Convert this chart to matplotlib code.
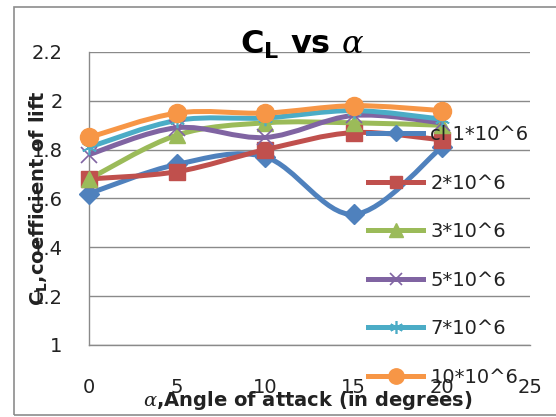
import matplotlib
matplotlib.use("Agg")
import matplotlib.pyplot as plt
from matplotlib.path import Path
from matplotlib.patches import PathPatch, Rectangle
from matplotlib.lines import Line2D
import numpy as np

plt.rcParams['font.family'] = ['DejaVu Sans']
plt.rcParams['mathtext.fontset'] = 'custom'
plt.rcParams['mathtext.it'] = 'DejaVu Serif:italic'
plt.rcParams['mathtext.bf'] = 'DejaVu Sans:bold'
plt.rcParams['mathtext.rm'] = 'DejaVu Sans'

alpha = [0, 5, 10, 15, 20]
cl_1e6 = [1.62, 1.74, 1.77, 1.535, 1.81]
cl_2e6 = [1.68, 1.71, 1.80, 1.87, 1.84]
cl_3e6 = [1.68, 1.86, 1.91, 1.91, 1.90]
cl_5e6 = [1.78, 1.89, 1.85, 1.94, 1.91]
cl_7e6 = [1.81, 1.92, 1.93, 1.96, 1.925]
cl_10e6 = [1.85, 1.95, 1.95, 1.98, 1.96]
labels = ['cl 1*10^6', '2*10^6', '3*10^6', '5*10^6', '7*10^6', '10*10^6']
series = [cl_1e6, cl_2e6, cl_3e6, cl_5e6, cl_7e6, cl_10e6]
colors = ['#4F81BD', '#C0504D', '#9BBB59', '#8064A2', '#4BACC6', '#F79646']
markers = ['D', 's', '^', 'x', (6, 2, 0), 'o']
msizes = [10, 11, 12, 11, 11, 13]
xticks = [0, 5, 10, 15, 20, 25]
yticks = [1, 1.2, 1.4, 1.6, 1.8, 2, 2.2]
ytick_labels = ['1', '1.2', '1.4', '1.6', '1.8', '2', '2.2']

W, H = 556, 417
fig = plt.figure(figsize=(W / 100, H / 100), dpi=100)
# chart border
fig.patches.append(Rectangle((14 / W, 1 - 415 / H), (W + 10 - 14) / W, (415 - 7) / H,
                             transform=fig.transFigure, fill=False,
                             edgecolor='#8c8c8c', lw=1.2))
ax = fig.add_axes([89 / W, 1 - 345 / H, (530 - 89) / W, (345 - 52) / H])
ax.set_xlim(0, 25)
ax.set_ylim(1, 2.2)
ax.set_xticks(xticks)
ax.set_yticks(yticks)
ax.set_yticklabels(ytick_labels)
ax.tick_params(axis='both', length=0, labelsize=14, colors='#222222')
ax.tick_params(axis='x', pad=24)
ax.tick_params(axis='y', pad=19)
ax.grid(axis='y', color='#8a8a8a', lw=1)
for s in ['top', 'right']:
    ax.spines[s].set_visible(False)
for s in ['left', 'bottom']:
    ax.spines[s].set_color('#8a8a8a')
    ax.spines[s].set_linewidth(1)
ax.set_axisbelow(True)


def smooth_path(xs, ys):
    pts = np.column_stack([xs, ys]).astype(float)
    n = len(pts)
    verts = [pts[0]]
    codes = [Path.MOVETO]
    for i in range(n - 1):
        p0 = pts[i - 1] if i > 0 else pts[i]
        p1 = pts[i]
        p2 = pts[i + 1]
        p3 = pts[i + 2] if i + 2 < n else pts[i + 1]
        c1 = p1 + (p2 - p0) / 6.0
        c2 = p2 - (p3 - p1) / 6.0
        verts += [c1, c2, p2]
        codes += [Path.CURVE4] * 3
    return Path(verts, codes)


handles = []
for ys, c, m, ms, lab in zip(series, colors, markers, msizes, labels):
    patch = PathPatch(smooth_path(alpha, ys), fill=False, edgecolor=c, lw=3.6,
                      capstyle='round', joinstyle='round', zorder=3)
    ax.add_patch(patch)
    thin = m in ('x',) or isinstance(m, tuple)
    ax.plot(alpha, ys, linestyle='none', marker=m, markersize=ms, color=c,
            markeredgewidth=1.2 if thin else 1, zorder=4, clip_on=False)
    handles.append(Line2D([], [], color=c, lw=3.6, marker=m, markersize=ms * 0.85,
                          markeredgewidth=1.2 if thin else 1))

leg = fig.legend(handles, labels, loc='upper left',
                 bbox_to_anchor=(368 / W, 1 - 125 / H), frameon=False,
                 fontsize=14, handlelength=2.85, handletextpad=0.36,
                 labelspacing=1.52, borderpad=0, borderaxespad=0)
for t in leg.get_texts():
    t.set_color('#222222')

fig.text(302 / W, 1 - 45 / H, r'C$_{\mathbf{L}}$ vs $\alpha$', ha='center', va='center',
         fontsize=23, fontweight='bold', color='black')
fig.text(308 / W, 1 - 401 / H, r'$\alpha$,Angle of attack (in degrees)', ha='center',
         va='center', fontsize=14, fontweight='bold', color='#222222')
fig.text(38 / W, 1 - 198 / H, r'C$_{\mathbf{L}}$,coefficient of lift', ha='center',
         va='center', rotation=90, fontsize=14, fontweight='bold', color='#222222')

fig.savefig('out.png', dpi=100)
